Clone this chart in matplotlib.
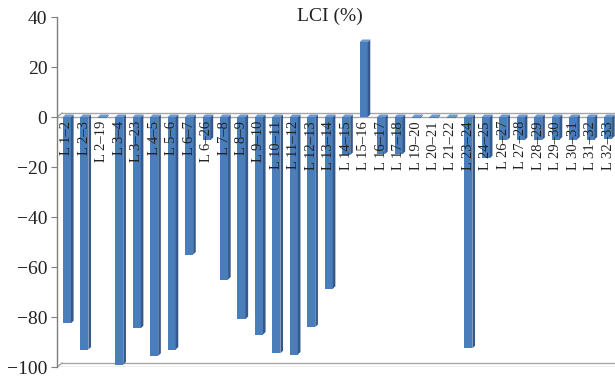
import matplotlib
matplotlib.use("Agg")
import matplotlib.pyplot as plt
from matplotlib.patches import Polygon

plt.rcParams['font.family'] = ['Liberation Serif', 'DejaVu Serif']

# Lines (branches) and their LCI values in percent
lines = ["L 1–2", "L 2–3", "L 2–19", "L 3–4", "L 3–23", "L 4–5", "L 5–6", "L 6–7",
         "L 6–26", "L 7–8", "L 8–9", "L 9–10", "L 10–11", "L 11–12", "L 12–13",
         "L 13–14", "L 14–15", "L 15–16", "L 16–17", "L 17–18", "L 19–20",
         "L 20–21", "L 21–22", "L 23–24", "L 24–25", "L 26–27", "L 27–28",
         "L 28–29", "L 29–30", "L 30–31", "L 31–32", "L 32–33"]
lci = [-82.5, -93.0, -0.5, -99.0, -84.5, -95.5, -93.0, -55.0,
       -9.2, -65.0, -80.8, -87.0, -94.5, -95.0, -84.0,
       -68.7, -15.2, 30.0, -14.8, -14.8, -0.5,
       -0.5, -0.5, -92.5, -16.5, -9.2, -9.2,
       -9.2, -9.0, -9.0, -9.0, -8.6]
yticks = [40, 20, 0, -20, -40, -60, -80, -100]

front_c = "#4A7EBB"
side_c = "#34598A"
top_c = "#6F9AD0"
grid_c = "#A6A6A6"

fig = plt.figure(figsize=(6.15, 3.76), dpi=100)
ax = fig.add_axes([57 / 615, 9 / 376, 1 - 57 / 615, (367 - 17) / 376])

n = len(lines)
xs = list(range(n))
w = 0.46          # front face width
dx, dy = 0.15, 1.0  # depth offset of the bar blocks
fdx, fdy = 0.29, 1.6  # depth offset of the floor/back wall

ax.set_xlim(-0.57, n - 1 + 0.4)
ax.set_ylim(-100, 40)

# floor at zero and at the bottom
x0, x1 = ax.get_xlim()
for base in (0, -100):
    ax.plot([x0, x1], [base, base], color=grid_c, lw=1.0, zorder=1)
    ax.plot([x0 + fdx, x1], [base + fdy, base + fdy], color=grid_c, lw=1.0, zorder=1)
    ax.plot([x0, x0 + fdx], [base, base + fdy], color=grid_c, lw=1.0, zorder=1)

# bars: front faces, then side and top faces for depth
ax.bar(xs, lci, width=w, color=front_c, edgecolor="none", zorder=3)
for x, v in zip(xs, lci):
    r = x + w / 2
    side = [(r, 0), (r + dx, dy), (r + dx, v + dy), (r, v)]
    ax.add_patch(Polygon(side, closed=True, fc=side_c, ec="none", zorder=3))
    top_y = max(v, 0)
    top = [(x - w / 2, top_y), (r, top_y), (r + dx, top_y + dy), (x - w / 2 + dx, top_y + dy)]
    ax.add_patch(Polygon(top, closed=True, fc=top_c, ec="none", zorder=3))

# category labels, rotated and hanging below the zero floor
for x, lab in zip(xs, lines):
    ax.text(x, -1.6, lab, rotation=90, ha="center", va="top",
            fontsize=10.5, color="#222222", zorder=5)

ax.set_yticks(yticks)
ax.set_yticklabels([f"{t}".replace("-", "\u2212") for t in yticks])
ax.tick_params(axis="y", direction="out", length=4, color="#7F7F7F",
               labelsize=14, labelcolor="#222222", pad=3)
ax.set_xticks([])
for s in ("top", "right", "bottom"):
    ax.spines[s].set_visible(False)
ax.spines["left"].set_color("#7F7F7F")
ax.spines["left"].set_linewidth(1.0)
ax.patch.set_alpha(0)

fig.text(330 / 615, 1 - 16 / 376, "LCI (%)", ha="center", va="center",
         fontsize=14, color="#222222")

fig.savefig("out.png", dpi=100)
